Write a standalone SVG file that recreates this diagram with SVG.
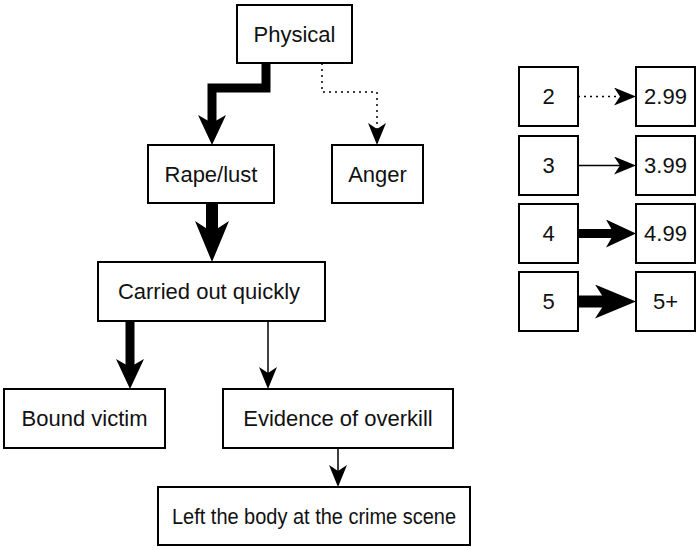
<svg xmlns="http://www.w3.org/2000/svg" width="700" height="550" viewBox="0 0 700 550">
<style>
.box{fill:#fff;stroke:#000;stroke-width:2}
.t{font-family:"Liberation Sans",Arial,sans-serif;font-size:22px;fill:#111;text-anchor:middle}
.c{fill:none;stroke:#000;stroke-linejoin:miter}
.l2{stroke-width:1.5;stroke-dasharray:2 4}
.l3{stroke-width:1.5}
.l4{stroke-width:9}
.l5{stroke-width:12}
</style>
<defs>
<marker id="a1" markerUnits="userSpaceOnUse" markerWidth="22" markerHeight="18" refX="6" refY="9" orient="auto" viewBox="0 0 22 18"><path d="M0,0 L22,9 L0,18 L6,9 Z" fill="#000"/></marker>
<marker id="a2" markerUnits="userSpaceOnUse" markerWidth="30" markerHeight="28" refX="8" refY="14" orient="auto" viewBox="0 0 30 28"><path d="M0,0 L30,14 L0,28 L8,14 Z" fill="#000"/></marker>
<marker id="a3" markerUnits="userSpaceOnUse" markerWidth="41" markerHeight="34" refX="11" refY="17" orient="auto" viewBox="0 0 41 34"><path d="M0,0 L41,17 L0,34 L11,17 Z" fill="#000"/></marker>
</defs>
<rect width="700" height="550" fill="#fff"/>
<g id="connectors">
<path class="c l4" d="M266,63 V88 H212 V123" marker-end="url(#a2)"/>
<path class="c l2" d="M322,63 V92 H377 V129" marker-end="url(#a1)"/>
<path class="c l5" d="M212,204 V232" marker-end="url(#a3)"/>
<path class="c l4" d="M130,321 V367" marker-end="url(#a2)"/>
<path class="c l3" d="M268,321 V373" marker-end="url(#a1)"/>
<path class="c l3" d="M338,448 V471" marker-end="url(#a1)"/>
<path class="c l2" d="M578,96.5 H620" marker-end="url(#a1)"/>
<path class="c l3" d="M578,165.5 H620" marker-end="url(#a1)"/>
<path class="c l4" d="M578,233.5 H614" marker-end="url(#a2)"/>
<path class="c l5" d="M578,301.5 H606" marker-end="url(#a3)"/>
</g>
<g id="physical"><rect class="box" x="237" y="5" width="115" height="58"/><text class="t" x="294.5" y="41.5">Physical</text></g>
<g id="rape"><rect class="box" x="148" y="145" width="126" height="58"/><text class="t" x="211" y="181.5">Rape/lust</text></g>
<g id="anger"><rect class="box" x="332" y="145" width="91" height="58"/><text class="t" x="377.5" y="181.5">Anger</text></g>
<g id="carried"><rect class="box" x="98" y="262" width="227" height="59"/><text class="t" x="209" y="299">Carried out quickly</text></g>
<g id="bound"><rect class="box" x="4" y="389" width="161" height="59"/><text class="t" x="84.5" y="426">Bound victim</text></g>
<g id="evidence"><rect class="box" x="223" y="389" width="230" height="59"/><text class="t" x="338" y="426">Evidence of overkill</text></g>
<g id="left"><rect class="box" x="158" y="487" width="312" height="58"/><text class="t" x="314" y="523.5" textLength="284" lengthAdjust="spacingAndGlyphs">Left the body at the crime scene</text></g>
<g id="k2"><rect class="box" x="519" y="67" width="59" height="59"/><text class="t" x="548.5" y="104">2</text></g>
<g id="v2"><rect class="box" x="636" y="67" width="59" height="59"/><text class="t" x="665.5" y="104">2.99</text></g>
<g id="k3"><rect class="box" x="519" y="136" width="59" height="59"/><text class="t" x="548.5" y="173">3</text></g>
<g id="v3"><rect class="box" x="636" y="136" width="59" height="59"/><text class="t" x="665.5" y="173">3.99</text></g>
<g id="k4"><rect class="box" x="519" y="204" width="59" height="59"/><text class="t" x="548.5" y="241">4</text></g>
<g id="v4"><rect class="box" x="636" y="204" width="59" height="59"/><text class="t" x="665.5" y="241">4.99</text></g>
<g id="k5"><rect class="box" x="519" y="272" width="59" height="59"/><text class="t" x="548.5" y="309">5</text></g>
<g id="v5"><rect class="box" x="636" y="272" width="59" height="59"/><text class="t" x="665.5" y="309">5+</text></g>
</svg>
